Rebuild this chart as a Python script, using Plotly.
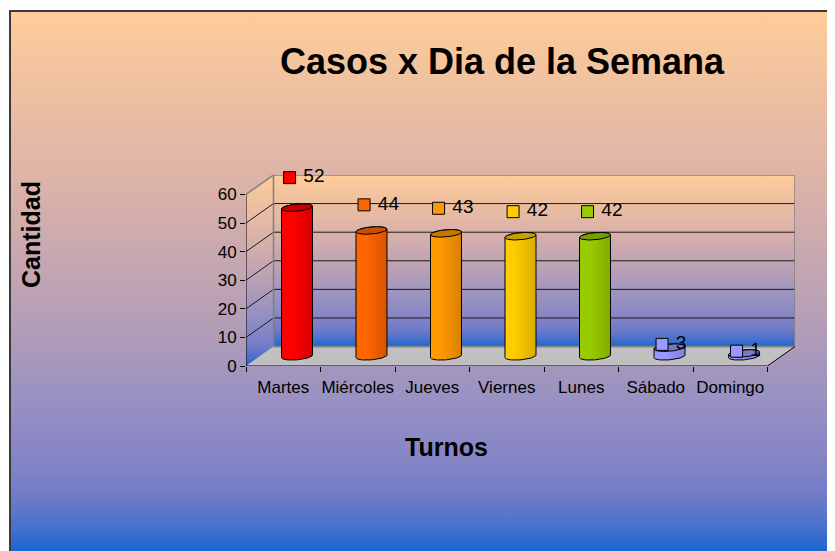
import base64
import numpy as np
import plotly.graph_objects as go

# datos del grafico
dias = ["Martes", "Miércoles", "Jueves", "Viernes", "Lunes", "Sábado", "Domingo"]
casos = [52, 44, 43, 42, 42, 3, 1]
y_ticks = [0, 10, 20, 30, 40, 50, 60]

colores = ["#FF0000", "#FF6600", "#FF9900", "#FFCC00", "#99CC00", "#9999FF", "#9999FF"]

# la pagina tiene 8px de margen en el body
OFF = 8
W_FIG, H_FIG = 835 - OFF, 551 - OFF
M_L, M_R, M_T, M_B = 246 - OFF, 40, 175 - OFF, 185
PW, PH = W_FIG - M_L - M_R, H_FIG - M_T - M_B

# profundidad 3D en unidades de datos
DX, DY = 0.369, 6.8
X0, X1 = -0.5, len(dias) - 0.5
YMAX = 60
R = 0.195
FONT = "Liberation Sans, Arial, sans-serif"

grad = [(0, "#FFCC99"), (0.35, "#D8B0AA"), (0.6, "#B09CB8"), (0.72, "#9891C2"),
        (0.83, "#8585C5"), (0.9, "#6F7BC8"), (0.96, "#4570CC"), (1, "#1866CC")]
grad_up = [[round(1 - p, 3), c] for p, c in reversed(grad)]


# posiciones de pantalla -> papel
def xp(px):
    return (px - OFF - M_L) / PW


def yp(py):
    return (H_FIG + OFF - M_B - py) / PH


def shade(hx, f):
    r, g, b = int(hx[1:3], 16), int(hx[3:5], 16), int(hx[5:7], 16)
    return "rgb(%d,%d,%d)" % (r * f, g * f, b * f)


fig = go.Figure()

# paredes y piso
fig.add_trace(go.Scatter(
    x=[X0, X0 + DX, X0 + DX, X0, X0], y=[0, DY, YMAX + DY, YMAX, 0],
    mode="none", fill="toself",
    fillgradient=dict(type="vertical", colorscale=grad_up, start=0, stop=YMAX + DY)))
fig.add_trace(go.Scatter(
    x=[X0 + DX, X1 + DX, X1 + DX, X0 + DX, X0 + DX], y=[DY, DY, YMAX + DY, YMAX + DY, DY],
    mode="none", fill="toself",
    fillgradient=dict(type="vertical", colorscale=grad_up, start=DY, stop=YMAX + DY)))
fig.add_trace(go.Scatter(
    x=[X0, X1, X1 + DX, X0 + DX, X0], y=[0, 0, DY, DY, 0],
    mode="none", fill="toself", fillcolor="#C0C0C0"))

# lineas de division
gx, gy = [], []
for v in y_ticks[1:-1]:
    gx += [X0, X0 + DX, X1 + DX, None]
    gy += [v, v + DY, v + DY, None]
fig.add_trace(go.Scatter(x=gx, y=gy, mode="lines", line=dict(color="#1a1a1a", width=1)))

# bordes grises de las paredes
fig.add_trace(go.Scatter(
    x=[X0, X0 + DX, X1 + DX, X1 + DX, X0 + DX, X0 + DX, None, X0 + DX, X1 + DX],
    y=[YMAX, YMAX + DY, YMAX + DY, DY, DY, YMAX + DY, None, DY, DY],
    mode="lines", line=dict(color="#808080", width=1.5)))
# ejes frontales
fig.add_trace(go.Scatter(
    x=[X0, X0, X1, X1 + DX], y=[YMAX, 0, 0, DY],
    mode="lines", line=dict(color="#000000", width=1)))

# cilindros
t_r = np.arctan(DX)
half_w = R * np.sqrt(1 + DX ** 2)
for i, (v, c) in enumerate(zip(casos, colores)):
    cx = i + DX / 2
    y0 = DY / 2
    tf = np.linspace(t_r - np.pi, t_r, 40)
    tb = np.linspace(t_r, t_r + np.pi, 40)
    bx = np.concatenate([cx + R * np.cos(tf) + DX * R * np.sin(tf),
                         cx + R * np.cos(tb) + DX * R * np.sin(tb)])
    by = np.concatenate([y0 + DY * R * np.sin(tf),
                         y0 + v + DY * R * np.sin(tb)])
    bx = np.append(bx, bx[0])
    by = np.append(by, by[0])
    fig.add_trace(go.Scatter(
        x=bx, y=by, mode="lines", fill="toself",
        line=dict(color="#000000", width=1),
        fillgradient=dict(type="horizontal", start=cx - half_w, stop=cx + half_w,
                          colorscale=[[0, c], [0.3, c], [0.55, shade(c, 0.95)],
                                      [0.85, shade(c, 0.88)], [1, shade(c, 0.85)]])))
    ta = np.linspace(0, 2 * np.pi, 60)
    fig.add_trace(go.Scatter(
        x=cx + R * np.cos(ta) + DX * R * np.sin(ta),
        y=y0 + v + DY * R * np.sin(ta),
        mode="lines", fill="toself", fillcolor=shade(c, 0.78),
        line=dict(color="#000000", width=1)))

# etiquetas de datos
fig.add_trace(go.Scatter(
    x=[i + DX / 2 - 0.1 for i in range(len(dias))],
    y=[4 + 1.19 * v for v in casos],
    mode="markers+text", cliponaxis=False,
    marker=dict(symbol="square", size=12, color=colores, line=dict(color="#000000", width=1)),
    text=["\u00a0" + str(v) for v in casos], textposition="middle right",
    textfont=dict(family=FONT, size=19, color="#000000")))

svg = ("<svg xmlns='http://www.w3.org/2000/svg' width='100' height='100' "
       "viewBox='0 0 100 100' preserveAspectRatio='none'><defs>"
       "<linearGradient id='g' x1='0' y1='0' x2='0' y2='1'>"
       + "".join("<stop offset='%s' stop-color='%s'/>" % (p, c) for p, c in grad)
       + "</linearGradient></defs><rect width='100' height='100' fill='url(#g)'/></svg>")
svg_uri = "data:image/svg+xml;base64," + base64.b64encode(svg.encode()).decode()

fig.update_layout(
    width=W_FIG, height=H_FIG,
    margin=dict(l=M_L, r=M_R, t=M_T, b=M_B),
    paper_bgcolor="#FFFFFF", plot_bgcolor="rgba(0,0,0,0)",
    showlegend=False, hovermode=False,
    font=dict(family=FONT, color="#000000"),
    title=dict(text="Casos x Dia de la Semana", x=(502 - OFF) / W_FIG, xanchor="center",
               y=1 - (61 - OFF) / H_FIG, yanchor="middle", yref="container",
               font=dict(size=36, family=FONT, weight="bold", color="#000000")),
    xaxis=dict(range=[X0, X1 + DX], tickvals=list(range(len(dias))), ticktext=dias,
               showgrid=False, zeroline=False, showline=False, tickangle=0,
               ticks="outside", ticklen=6, tickcolor="rgba(0,0,0,0)",
               minor=dict(ticks="outside", tick0=0.5, dtick=1, ticklen=5,
                          tickcolor="#000000", showgrid=False),
               tickfont=dict(size=17, family=FONT, color="#000000")),
    yaxis=dict(range=[0, YMAX + DY], tickvals=y_ticks,
               showgrid=False, zeroline=False, showline=False,
               ticks="outside", ticklen=5, tickcolor="#000000",
               tickfont=dict(size=17, family=FONT, color="#000000")),
    images=[dict(source=svg_uri, xref="paper", yref="paper",
                 x=xp(10), y=yp(11), sizex=(835 - 10) / PW, sizey=(551 - 11) / PH,
                 xanchor="left", yanchor="top", sizing="stretch", layer="below")],
    shapes=[dict(type="rect", xref="paper", yref="paper",
                 x0=xp(10), y0=yp(560), x1=xp(845), y1=yp(11),
                 line=dict(color="#3a3a3a", width=2), layer="below")],
    annotations=[
        dict(text="Cantidad", xref="paper", yref="paper", x=xp(31), y=yp(235),
             textangle=-90, showarrow=False, xanchor="center", yanchor="middle",
             font=dict(size=25, family=FONT, weight="bold", color="#000000")),
        dict(text="Turnos", xref="paper", yref="paper", x=xp(446), y=yp(447),
             showarrow=False, xanchor="center", yanchor="middle",
             font=dict(size=25, family=FONT, weight="bold", color="#000000")),
    ],
)

fig.write_html("out.html")
